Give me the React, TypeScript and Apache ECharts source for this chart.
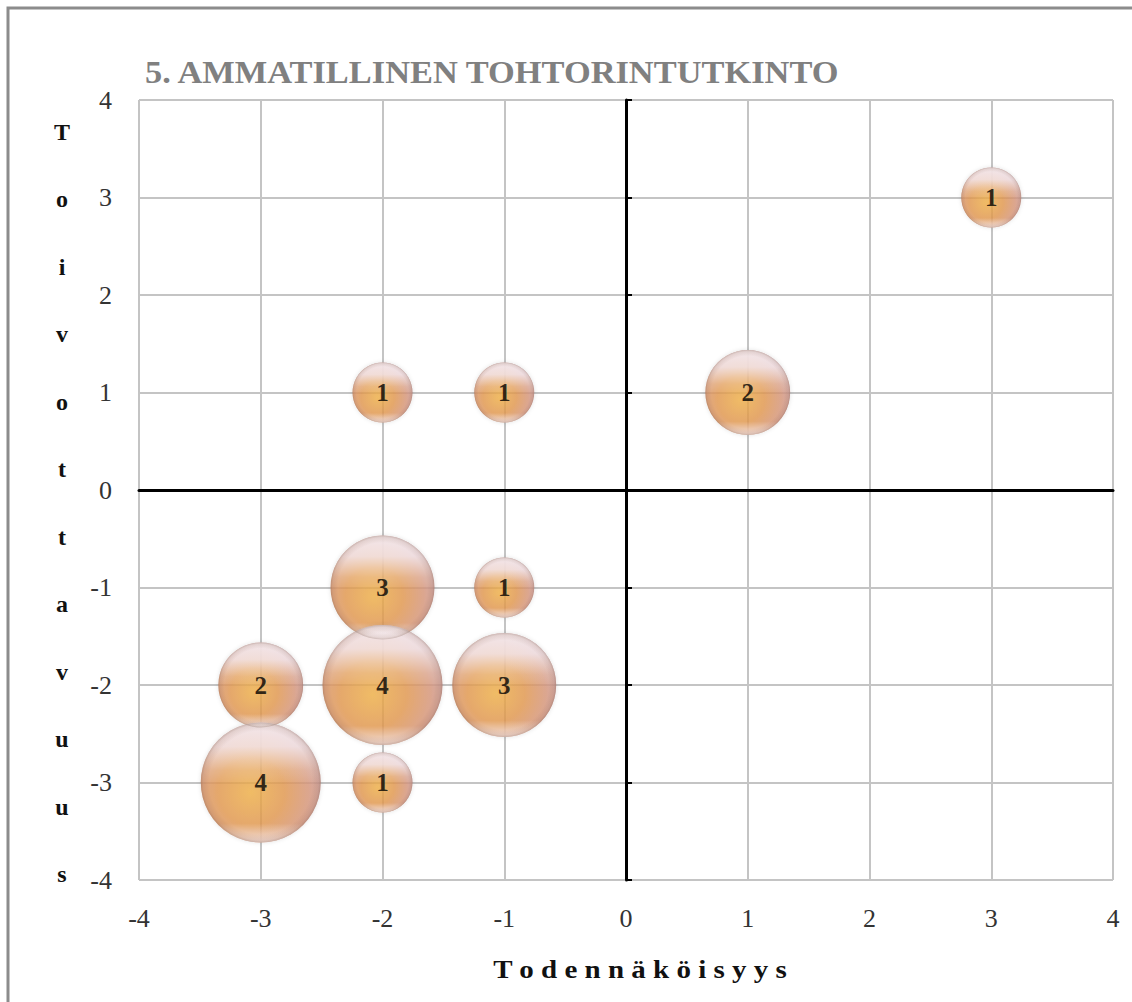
import React, { useEffect, useRef } from "react";
import * as echarts from "echarts";

const titleText = "5. AMMATILLINEN TOHTORINTUTKINTO";
const xAxisTitle = "T o d e n n ä k ö i s y y s";
const yAxisTitle = "Toivottavuus";
const axisMin = -4;
const axisMax = 4;

const xValues = [3, -2, -1, 1, -2, -1, -3, -2, -1, -3, -2];
const yValues = [3, 1, 1, 1, -1, -1, -2, -2, -2, -3, -3];
const counts = [1, 1, 1, 2, 3, 1, 2, 4, 3, 4, 1];

const FONT = '"Liberation Serif", "DejaVu Serif", serif';

export default function App() {
  const ref = useRef<HTMLDivElement>(null);
  useEffect(() => {
    if (!ref.current) return;
    const chart = echarts.init(ref.current, undefined, { renderer: "svg" });
    const data = xValues.map((x, i) => [x, yValues[i], counts[i]]);
    const sizeFn = (v: number[]) => 60 * Math.sqrt(v[2]);

    const body = {
      type: "radial",
      x: 0.42,
      y: 0.58,
      r: 0.62,
      colorStops: [
        { offset: 0, color: "#f0b046" },
        { offset: 0.45, color: "#e2974e" },
        { offset: 0.78, color: "#d6957a" },
        { offset: 1, color: "#c99a9c" },
      ],
    };
    const highlight = {
      type: "linear",
      x: 0,
      y: 0,
      x2: 0,
      y2: 1,
      colorStops: [
        { offset: 0, color: "rgba(250,246,252,1)" },
        { offset: 0.2, color: "rgba(248,242,250,0.9)" },
        { offset: 0.4, color: "rgba(255,248,240,0.2)" },
        { offset: 0.52, color: "rgba(255,255,255,0)" },
        { offset: 0.84, color: "rgba(255,255,255,0)" },
        { offset: 1, color: "rgba(252,246,252,0.85)" },
      ],
    };
    const rim = {
      type: "radial",
      x: 0.5,
      y: 0.5,
      r: 0.5,
      colorStops: [
        { offset: 0, color: "rgba(120,70,40,0)" },
        { offset: 0.86, color: "rgba(120,70,40,0)" },
        { offset: 0.96, color: "rgba(120,70,40,0.15)" },
        { offset: 1, color: "rgba(100,60,40,0.35)" },
      ],
    };

    const letters = yAxisTitle.split("").join("\n");

    chart.setOption({
      animation: false,
      backgroundColor: "#ffffff",
      grid: { left: 139, right: 19, top: 100, bottom: 122 },
      xAxis: [
        {
          type: "value",
          min: axisMin,
          max: axisMax,
          interval: 1,
          position: "bottom",
          axisLine: { show: false, onZero: false },
          axisTick: { show: false },
          axisLabel: { margin: 25, fontSize: 26, color: "#333", fontFamily: FONT },
          splitLine: { show: true, lineStyle: { color: "#c4c4c4", width: 2 } },
        },
        {
          type: "value",
          min: axisMin,
          max: axisMax,
          interval: 1,
          position: "bottom",
          axisLine: { show: true, onZero: true, lineStyle: { color: "#000", width: 3 } },
          axisTick: { show: false },
          axisLabel: { show: false },
          splitLine: { show: false },
        },
      ],
      yAxis: [
        {
          type: "value",
          min: axisMin,
          max: axisMax,
          interval: 1,
          position: "left",
          axisLine: { show: false, onZero: false },
          axisTick: { show: false },
          axisLabel: { margin: 27, fontSize: 26, color: "#333", fontFamily: FONT },
          splitLine: { show: true, lineStyle: { color: "#c4c4c4", width: 2 } },
        },
        {
          type: "value",
          min: axisMin,
          max: axisMax,
          interval: 1,
          position: "left",
          axisLine: { show: true, onZero: true, lineStyle: { color: "#000", width: 3 } },
          axisTick: { show: true, inside: true, length: 6, lineStyle: { color: "#000", width: 2 } },
          axisLabel: { show: false },
          splitLine: { show: false },
        },
      ],
      graphic: [
        {
          type: "rect",
          shape: { x: 8, y: 8, width: 1200, height: 1100 },
          style: { fill: "none", stroke: "#8c8c8c", lineWidth: 3 },
          z: 100,
          silent: true,
        },
        {
          type: "text",
          x: 145,
          y: 57,
          scaleX: 1.11,
          style: {
            text: titleText,
            fill: "#808080",
            font: `bold 31px ${FONT}`,
          },
        },
        {
          type: "text",
          x: 62,
          y: 98,
          style: {
            text: letters,
            fill: "#111",
            font: `bold 24px ${FONT}`,
            align: "center",
            verticalAlign: "top",
            lineHeight: 67.5,
          },
        },
        {
          type: "text",
          x: 640,
          y: 970,
          scaleX: 1.16,
          style: {
            text: xAxisTitle,
            fill: "#111",
            font: `bold 25px ${FONT}`,
            align: "center",
            verticalAlign: "middle",
          },
        },
      ],
      series: [
        {
          type: "scatter",
          xAxisIndex: 0,
          yAxisIndex: 0,
          data,
          symbolSize: sizeFn,
          itemStyle: {
            color: body,
            shadowBlur: 4,
            shadowColor: "rgba(0,0,0,0.15)",
          },
          silent: true,
          z: 3,
        },
        {
          type: "scatter",
          xAxisIndex: 0,
          yAxisIndex: 0,
          data,
          symbolSize: sizeFn,
          itemStyle: { color: highlight },
          silent: true,
          z: 4,
        },
        {
          type: "scatter",
          xAxisIndex: 0,
          yAxisIndex: 0,
          data,
          symbolSize: sizeFn,
          itemStyle: { color: rim },
          label: {
            show: true,
            position: "inside",
            formatter: (p: any) => String(p.value[2]),
            fontSize: 25,
            fontWeight: "bold",
            color: "#000",
            fontFamily: FONT,
          },
          silent: true,
          z: 5,
        },
      ],
    });
    return () => chart.dispose();
  }, []);
  return (
    <div
      ref={ref}
      style={{ position: "absolute", left: 0, top: 0, width: 1132, height: 1002 }}
    />
  );
}
